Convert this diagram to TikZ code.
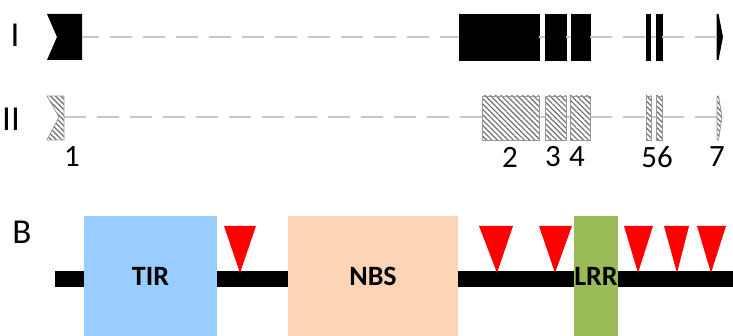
\documentclass[tikz,border=0pt]{standalone}
\usepackage{fontspec}
\setmainfont{Carlito}
\usetikzlibrary{patterns.meta}
\definecolor{intronGray}{HTML}{C8C8C8}
\definecolor{tirBlue}{HTML}{99CCFF}
\definecolor{nbsPeach}{HTML}{FBD5B5}
\definecolor{lrrGreen}{HTML}{9BBB59}
\definecolor{hatchGray}{HTML}{6E6E6E}
\begin{document}
\begin{tikzpicture}[x=1pt,y=-1pt,
  intron/.style={draw=intronGray,line width=2.4pt},
  longintron/.style={intron,dash pattern=on 22pt off 11pt},
  exonfull/.style={rectangle,fill=black,draw=black,line width=0.6pt,inner sep=0pt,minimum height=46pt},
  exonhatch/.style={rectangle,draw=hatchGray!70,line width=0.8pt,inner sep=0pt,minimum height=44pt,
    pattern={Lines[angle=-45,distance=3.8pt,line width=1.2pt]},pattern color=hatchGray},
  hatchfill/.style={draw=hatchGray!70,line width=0.8pt,
    pattern={Lines[angle=-45,distance=3.8pt,line width=1.2pt]},pattern color=hatchGray},
  rowlabel/.style={inner sep=0pt,font=\fontsize{35}{40}\selectfont},
  exonnum/.style={inner sep=0pt,font=\fontsize{31}{36}\selectfont},
  domainbox/.style={rectangle,inner sep=0pt,minimum height=120pt,font=\bfseries\fontsize{28}{32}\selectfont},
  backbone/.style={draw=black,line width=16pt},
  snv/.style={fill=red}
]
\useasboundingbox (0,0) rectangle (733,336);

% ---------- gene model I (solid exons) ----------
\node[rowlabel] (labI) at (15,35) {I};
\fill[black] (47,14) -- (82,14) -- (82,60) -- (47,60) -- (57,37) -- cycle;
\coordinate (e1a) at (82,37);
\node[exonfull,minimum width=80pt] (e2a) at (499,37) {};
\node[exonfull,minimum width=21pt] (e3a) at (555.5,37) {};
\node[exonfull,minimum width=19pt] (e4a) at (580.5,37) {};
\node[exonfull,minimum width=4pt] (e5a) at (648.5,37) {};
\node[exonfull,minimum width=6pt] (e6a) at (659,37) {};
\fill[black] (716.5,14) -- (718.5,14) -- (723,37) -- (718.5,60) -- (716.5,60) -- cycle;
\coordinate (e7a) at (716.5,37);

\draw[longintron,dash phase=5pt] (e1a) -- (e2a.west);
\draw[intron] (e2a.east) -- (e3a.west);
\draw[intron] (e3a.east) -- (e4a.west);
\draw[longintron] (e4a.east) -- (e5a.west);
\draw[intron] (e5a.east) -- (e6a.west);
\draw[longintron] (e6a.east) -- (e7a);

% ---------- gene model II (hatched exons) ----------
\node[rowlabel] (labII) at (11,119) {II};
\coordinate (e1b) at (64,117);
\coordinate (e2bw) at (482,117);
\coordinate (e7b) at (717,117);
\draw[longintron] (e1b) -- (e2bw);
\draw[intron] (539,117) coordinate (e2be) -- (545,117) coordinate (e3bw);
\draw[intron] (566,117) coordinate (e3be) -- (570,117) coordinate (e4bw);
\draw[longintron] (590,117) coordinate (e4be) -- (646,117) coordinate (e5bw);
\draw[intron] (651,117) coordinate (e5be) -- (656,117) coordinate (e6bw);
\draw[longintron] (662,117) coordinate (e6be) -- (e7b);

\path[hatchfill] (47,96) -- (64,96) -- (64,140) -- (47,140) -- (59,117) -- cycle;
\node[exonhatch,minimum width=57pt] (e2b) at (510.5,118) {};
\node[exonhatch,minimum width=21pt] (e3b) at (555.5,118) {};
\node[exonhatch,minimum width=20pt] (e4b) at (580,118) {};
\node[exonhatch,minimum width=5pt] (e5b) at (648.5,118) {};
\node[exonhatch,minimum width=6pt] (e6b) at (659,118) {};
\path[hatchfill] (717,96) -- (718.5,96) -- (722,117) -- (718.5,140) -- (717,140) -- cycle;

% exon numbers
\node[exonnum] (n1) at (72,157) {1};
\node[exonnum] (n2) at (510,157) {2};
\node[exonnum] (n3) at (553,157) {3};
\node[exonnum] (n4) at (577,157) {4};
\node[exonnum] (n56) at (657,157) {56};
\node[exonnum] (n7) at (717,157) {7};

% ---------- protein domains ----------
\node[rowlabel] (labB) at (22,232) {B};
\coordinate (pstart) at (55,279);
\coordinate (pend) at (733,279);
\draw[backbone] (pstart) -- (pend);
\node[domainbox,fill=tirBlue,minimum width=133pt] (tir) at (150.5,276) {TIR};
\node[domainbox,fill=nbsPeach,minimum width=170pt] (nbs) at (373,276) {NBS};
\node[domainbox,fill=lrrGreen,minimum width=44pt] (lrr) at (596,276) {LRR};

% variant markers
\foreach \l/\r/\t in {224/256/240, 479/513/497, 539/572/555, 624/653/638, 664/689/677, 697/726/711}
  \fill[snv] (\l,226) -- (\r,226) -- (\t,273) -- cycle;
\end{tikzpicture}
\end{document}
